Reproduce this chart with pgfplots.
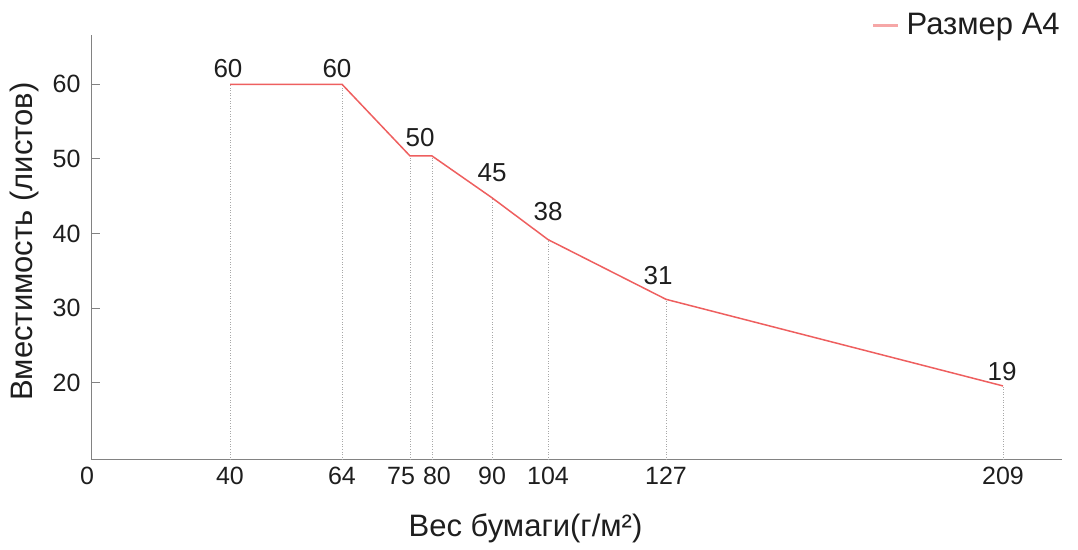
\documentclass[border=0pt]{standalone}
\usepackage{pgfplots}
\pgfplotsset{compat=1.18}
\usepackage{fontspec}
\setmainfont{Liberation Sans}
\definecolor{lred}{RGB}{238,95,95}
\definecolor{axgray}{RGB}{130,130,130}
\definecolor{txt}{RGB}{30,30,30}
\begin{document}
\fontsize{22}{26}\selectfont
\begin{tikzpicture}
\begin{axis}[
  scale only axis, width=970pt, height=425pt,
  xmin=92, xmax=1062, ymin=9.68, ymax=66.6,
  axis lines*=left,
  axis line style={axgray, line width=1pt},
  xtick={92,230,342,410,432,492,548,666,1003},
  xticklabels={\hspace*{-10pt}0,40,64,\hspace*{-18pt}75,80\hspace*{-10pt},90,104,127,209},
  ytick={20,30,40,50,60},
  tick align=inside,
  major tick length=8pt,
  x tick style={draw=none},
  y tick style={axgray, line width=1pt},
  /pgf/number format/assume math mode=true,
  tick label style={font=\fontsize{25}{30}\selectfont, text=txt},
  yticklabel style={xshift=-4pt},
  xticklabel style={yshift=0pt},
  xlabel={Вес бумаги(г/м²)},
  ylabel={Вместимость (листов)},
  label style={font=\fontsize{31}{36}\selectfont, text=txt},
  xlabel style={at={(axis description cs:0.4469,-0.16)}, anchor=center},
  ylabel style={at={(axis description cs:-0.0691,0.514)}, anchor=center},
  legend style={draw=none, fill=none, at={(axis description cs:1.003,1.0235)}, anchor=east, font=\fontsize{31}{36}\selectfont, text=txt},
  legend image code/.code={\draw[#1, draw=lred!55, line width=3pt] (0pt,0pt) -- (25pt,0pt); \path (31pt,0pt);},
  clip=true,
]
\addplot[ycomb, axgray!70, dotted, line width=0.6pt, forget plot] coordinates {(230,60) (342,60) (410,50.4) (432,50.4) (492,44.8) (548,39.2) (666,31.2) (1003,19.6)};
\addplot[lred, line width=1.5pt] coordinates {(230,60) (342,60) (410,50.4) (432,50.4) (492,44.8) (548,39.2) (666,31.2) (1003,19.6)};
\addlegendentry{Размер А4}
\addplot[draw=none, mark=none, forget plot, nodes near coords, point meta=explicit symbolic,
  nodes near coords style={anchor=center, text=txt, font=\fontsize{26}{30}\selectfont}]
  coordinates {(228,62.08) [60] (337,62.08) [60] (420,52.83) [50] (492,48.14) [45] (548,42.9) [38] (658,34.4) [31] (1002,21.5) [19]};
\end{axis}
\useasboundingbox (-92pt,-87pt) rectangle (986pt,460pt);
\end{tikzpicture}
\end{document}
